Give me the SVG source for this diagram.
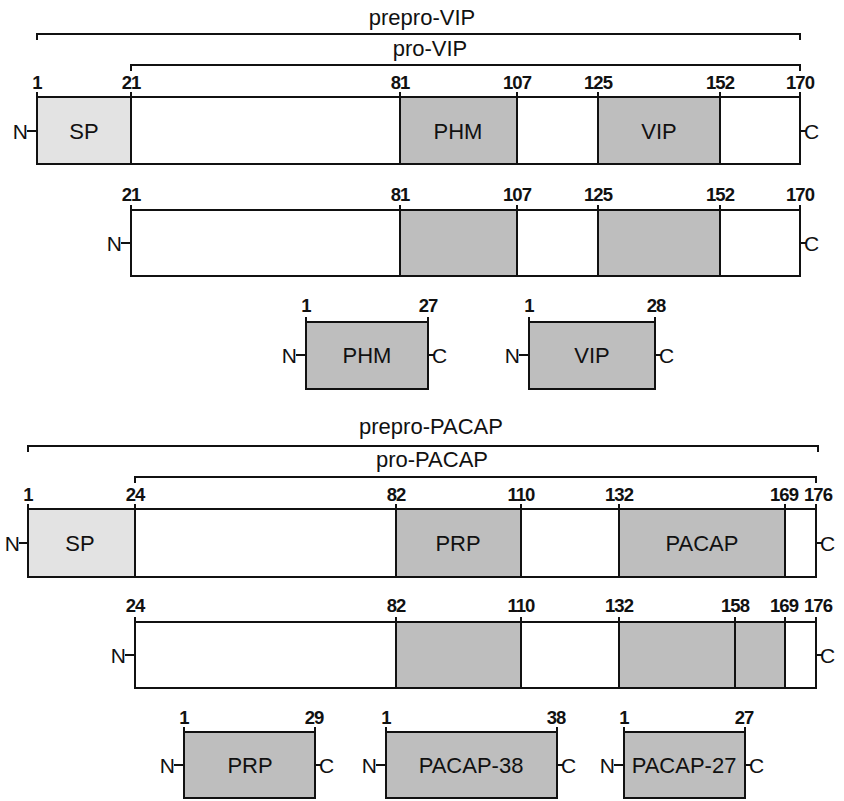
<svg xmlns="http://www.w3.org/2000/svg" width="844" height="801" viewBox="0 0 844 801">
<style>
.bx{fill:#fff;stroke:#111;stroke-width:2}
.sp{fill:#e3e3e3;stroke:none}
.dm{fill:#bebebe;stroke:none}
.ln{stroke:#111;stroke-width:2;fill:none}
.num{font-family:"Liberation Sans",Arial,sans-serif;font-weight:bold;font-size:18.5px;fill:#111;text-anchor:middle;letter-spacing:-1px}
.lbl{font-family:"Liberation Sans",Arial,sans-serif;font-size:22px;fill:#111;text-anchor:middle}
.nl{font-family:"Liberation Sans",Arial,sans-serif;font-size:21px;fill:#111;text-anchor:end}
.cl{font-family:"Liberation Sans",Arial,sans-serif;font-size:21px;fill:#111;text-anchor:start}
</style>
<rect width="844" height="801" fill="#fff"/>
<g id="connectors">
  <text class="lbl" x="422" y="25">prepro-VIP</text>
  <path class="ln" d="M37,40 V34 H800 V40"/>
  <text class="lbl" x="430" y="56">pro-VIP</text>
  <path class="ln" d="M131,71 V65 H800 V71"/>
  <text class="lbl" x="431" y="434">prepro-PACAP</text>
  <path class="ln" d="M28,452 V446 H818 V452"/>
  <text class="lbl" x="432" y="467">pro-PACAP</text>
  <path class="ln" d="M135,483 V477 H816 V483"/>
</g>

<g id="prepro-vip">
  <rect class="sp" x="37" y="97" width="94" height="67"/>
  <rect class="dm" x="400" y="97" width="117" height="67"/>
  <rect class="dm" x="598" y="97" width="122" height="67"/>
  <rect x="37" y="97" width="763" height="67" style="fill:none;stroke:#111;stroke-width:2"/>
  <path class="ln" d="M37,92V164M131,92V164M400,92V164M517,92V164M598,92V164M720,92V164M800,92V164"/>
  <text class="num" x="37" y="89">1</text>
  <text class="num" x="131" y="89">21</text>
  <text class="num" x="400" y="89">81</text>
  <text class="num" x="517" y="89">107</text>
  <text class="num" x="598" y="89">125</text>
  <text class="num" x="720" y="89">152</text>
  <text class="num" x="800" y="89">170</text>
  <text class="lbl" x="84" y="139">SP</text>
  <text class="lbl" x="458" y="139">PHM</text>
  <text class="lbl" x="659" y="139">VIP</text>
  <text class="nl" x="28" y="139">N</text>
  <path class="ln" d="M27,131H37M800,131H806"/>
  <text class="cl" x="804" y="139">C</text>
</g>

<g id="pro-vip">
  <rect class="dm" x="400" y="210" width="117" height="66"/>
  <rect class="dm" x="598" y="210" width="122" height="66"/>
  <rect x="131" y="210" width="669" height="66" style="fill:none;stroke:#111;stroke-width:2"/>
  <path class="ln" d="M131,205V276M400,205V276M517,205V276M598,205V276M720,205V276M800,205V276"/>
  <text class="num" x="131" y="201">21</text>
  <text class="num" x="400" y="201">81</text>
  <text class="num" x="517" y="201">107</text>
  <text class="num" x="598" y="201">125</text>
  <text class="num" x="720" y="201">152</text>
  <text class="num" x="800" y="201">170</text>
  <text class="nl" x="122" y="251">N</text>
  <path class="ln" d="M121,243H131M800,243H806"/>
  <text class="cl" x="804" y="251">C</text>
</g>

<g id="phm">
  <rect class="dm" x="306" y="322" width="122" height="67" style="stroke:#111;stroke-width:2"/>
  <path class="ln" d="M306,317V322M428,317V322"/>
  <text class="num" x="306" y="312">1</text>
  <text class="num" x="428" y="312">27</text>
  <text class="lbl" x="367" y="363">PHM</text>
  <text class="nl" x="297" y="363">N</text>
  <path class="ln" d="M296,355H306M428,355H434"/>
  <text class="cl" x="432" y="363">C</text>
</g>

<g id="vip">
  <rect class="dm" x="529" y="322" width="126" height="67" style="stroke:#111;stroke-width:2"/>
  <path class="ln" d="M529,317V322M655,317V322"/>
  <text class="num" x="529" y="312">1</text>
  <text class="num" x="656" y="312">28</text>
  <text class="lbl" x="592" y="363">VIP</text>
  <text class="nl" x="520" y="363">N</text>
  <path class="ln" d="M519,355H529M655,355H661"/>
  <text class="cl" x="659" y="363">C</text>
</g>

<g id="prepro-pacap">
  <rect class="sp" x="28" y="509" width="107" height="68"/>
  <rect class="dm" x="396" y="509" width="125" height="68"/>
  <rect class="dm" x="619" y="509" width="166" height="68"/>
  <rect x="28" y="509" width="788" height="68" style="fill:none;stroke:#111;stroke-width:2"/>
  <path class="ln" d="M28,504V577M135,504V577M396,504V577M521,504V577M619,504V577M785,504V577M816,504V577"/>
  <text class="num" x="28" y="501">1</text>
  <text class="num" x="135" y="501">24</text>
  <text class="num" x="396" y="501">82</text>
  <text class="num" x="521" y="501">110</text>
  <text class="num" x="619" y="501">132</text>
  <text class="num" x="784" y="501">169</text>
  <text class="num" x="818" y="501">176</text>
  <text class="lbl" x="80" y="551">SP</text>
  <text class="lbl" x="458" y="551">PRP</text>
  <text class="lbl" x="702" y="551">PACAP</text>
  <text class="nl" x="20" y="551">N</text>
  <path class="ln" d="M19,543H28M816,543H822"/>
  <text class="cl" x="820" y="551">C</text>
</g>

<g id="pro-pacap">
  <rect class="dm" x="396" y="622" width="125" height="66"/>
  <rect class="dm" x="619" y="622" width="166" height="66"/>
  <rect x="135" y="622" width="681" height="66" style="fill:none;stroke:#111;stroke-width:2"/>
  <path class="ln" d="M135,617V688M396,617V688M521,617V688M619,617V688M735,617V688M785,617V688M816,617V688"/>
  <text class="num" x="135" y="612">24</text>
  <text class="num" x="396" y="612">82</text>
  <text class="num" x="521" y="612">110</text>
  <text class="num" x="619" y="612">132</text>
  <text class="num" x="735" y="612">158</text>
  <text class="num" x="784" y="612">169</text>
  <text class="num" x="818" y="612">176</text>
  <text class="nl" x="126" y="663">N</text>
  <path class="ln" d="M125,655H135M816,655H822"/>
  <text class="cl" x="820" y="663">C</text>
</g>

<g id="prp">
  <rect class="dm" x="184" y="732" width="131" height="66" style="stroke:#111;stroke-width:2"/>
  <path class="ln" d="M184,727V732M315,727V732"/>
  <text class="num" x="184" y="724">1</text>
  <text class="num" x="314" y="724">29</text>
  <text class="lbl" x="250" y="773">PRP</text>
  <text class="nl" x="175" y="773">N</text>
  <path class="ln" d="M174,765H184M315,765H321"/>
  <text class="cl" x="319" y="773">C</text>
</g>

<g id="pacap-38">
  <rect class="dm" x="386" y="732" width="171" height="66" style="stroke:#111;stroke-width:2"/>
  <path class="ln" d="M386,727V732M557,727V732"/>
  <text class="num" x="386" y="724">1</text>
  <text class="num" x="556" y="724">38</text>
  <text class="lbl" x="471" y="773">PACAP-38</text>
  <text class="nl" x="377" y="773">N</text>
  <path class="ln" d="M376,765H386M557,765H563"/>
  <text class="cl" x="561" y="773">C</text>
</g>

<g id="pacap-27">
  <rect class="dm" x="624" y="732" width="121" height="66" style="stroke:#111;stroke-width:2"/>
  <path class="ln" d="M624,727V732M745,727V732"/>
  <text class="num" x="624" y="724">1</text>
  <text class="num" x="744" y="724">27</text>
  <text class="lbl" x="684" y="773">PACAP-27</text>
  <text class="nl" x="615" y="773">N</text>
  <path class="ln" d="M614,765H624M745,765H751"/>
  <text class="cl" x="749" y="773">C</text>
</g>
</svg>
